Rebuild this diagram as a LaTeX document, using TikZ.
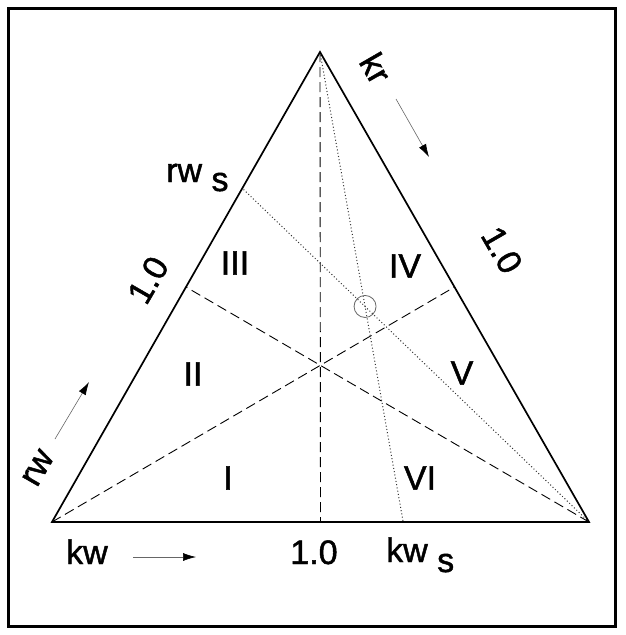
\documentclass[tikz,border=0pt]{standalone}
\usepackage{fontspec}
\setmainfont{Liberation Sans}
\newfontfamily\lblfont{Liberation Sans}[FakeBold=1.4]
\usetikzlibrary{arrows.meta,calc}
\tikzset{
  frame/.style={line width=3pt},
  tri/.style={line width=1.7pt, line join=miter},
  median/.style={line width=0.9pt, dash pattern=on 10pt off 5pt},
  dotline/.style={line width=1pt, black!80, dash pattern=on 1pt off 2.3pt},
  lbl/.style={inner sep=0pt, font=\lblfont\fontsize{34}{40}\selectfont},
  dirarrow/.style={line width=0.6pt, black!60, -{Latex[length=13pt,width=8pt,fill=black,color=black]}},
  mark circle/.style={draw=black!60, line width=0.8pt, circle, minimum size=22pt, inner sep=0pt}
}
\begin{document}
\begin{tikzpicture}[x=1pt,y=-1pt]
\useasboundingbox (0,0) rectangle (625,635);
\draw[frame] (8.5,8.5) rectangle (615,626);
% vertices
\coordinate (A) at (52,522);
\coordinate (B) at (589,522);
\coordinate (T) at (320,52);
% midpoints
\coordinate (MAB) at ($(A)!0.5!(B)$);
\coordinate (MBT) at ($(B)!0.5!(T)$);
\coordinate (MAT) at ($(A)!0.5!(T)$);
% special points
\coordinate (RS) at ($(A)!0.71!(T)$);
\coordinate (KS) at ($(A)!0.654!(B)$);
\coordinate (X) at (intersection of T--KS and B--RS);
% medians
\draw[median] (T) -- (MAB);
\draw[median] (A) -- (MBT);
\draw[median] (B) -- (MAT);
% dotted lines
\draw[dotline] (T) -- (KS);
\draw[dotline] (B) -- (RS);
\node[mark circle] (circ) at (X) {};
% triangle
\draw[tri] (A) -- (B) -- (T) -- cycle;
% region labels
\node[lbl] (r1) at (228,478) {I};
\node[lbl] (r2) at (193,374) {II};
\node[lbl] (r3) at (235,263) {III};
\node[lbl] (r4) at (405,266) {IV};
\node[lbl] (r5) at (462,373) {V};
\node[lbl] (r6) at (420,478) {VI};
% side labels
\node[lbl, rotate=60] (one1) at (148,280) {1.0};
\node[lbl, rotate=-60] (one2) at (502,250) {1.0};
\node[lbl, anchor=base] (one3) at (314,564) {1.0};
\node[lbl, rotate=-60] (kr) at (376,68) {kr};
\node[lbl, rotate=60] (rw) at (38,468) {rw};
\node[lbl, anchor=base west] (kw) at (66,564) {kw};
\node[lbl, anchor=base west] (kws) at (386,562) {kw \raisebox{-10pt}{s}};
\node[lbl, anchor=base west] (rws) at (166,182) {rw \raisebox{-9pt}{s}};
% direction arrows
\coordinate (krA) at (396,99);
\coordinate (krB) at (429,157);
\coordinate (rwA) at (55,439);
\coordinate (rwB) at (89,382);
\coordinate (kwA) at (133,557);
\coordinate (kwB) at (196,557);
\draw[dirarrow] (krA) -- (krB);
\draw[dirarrow] (rwA) -- (rwB);
\draw[dirarrow] (kwA) -- (kwB);
\end{tikzpicture}
\end{document}
